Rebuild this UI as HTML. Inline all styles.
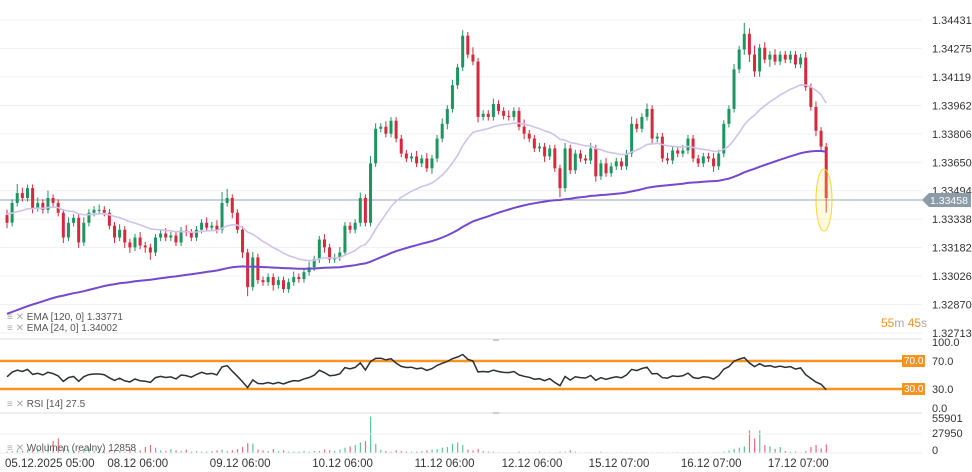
<!DOCTYPE html>
<html><head><meta charset="utf-8"><style>
body{margin:0;background:#fff;font-family:"Liberation Sans",sans-serif}
svg{display:block}
text{font-family:"Liberation Sans",sans-serif}
</style></head><body>
<svg id="chart" width="972" height="472" viewBox="0 0 972 472" xmlns="http://www.w3.org/2000/svg">
<g id="grid"></g>
<g id="axis"></g>
<line x1="0" y1="200" x2="922" y2="200" stroke="#93a4b1" stroke-width="1"/>
<g id="vol"></g>
<g id="candles"></g>
<path id="ema24" fill="none" stroke="#cfc3ea" stroke-width="1.6"/>
<path id="ema120" fill="none" stroke="#7449cc" stroke-width="2"/>
<ellipse cx="824" cy="200" rx="8" ry="31" fill="rgba(255,235,120,0.25)" stroke="#f5d33f" stroke-width="1"/>
<g>
<path d="M922 200 L929 193 H971 V207 H929 Z" fill="#8c9ba8"/>
<text x="930" y="204" font-size="10.5" fill="#fff">1.33458</text>
</g>
<text x="881" y="327" font-size="12"><tspan fill="#f7931e">55</tspan><tspan fill="#aaa">m </tspan><tspan fill="#f7931e">45</tspan><tspan fill="#aaa">s</tspan></text>
<line x1="0" y1="339" x2="922" y2="339" stroke="#ddd"/>
<line x1="0" y1="413" x2="922" y2="413" stroke="#ddd"/>
<line x1="0" y1="453" x2="922" y2="453" stroke="#eee"/>
<line x1="0" y1="434" x2="922" y2="434" stroke="#f2f2f2"/>
<rect x="493" y="339" width="6" height="2" fill="#ccc"/>
<rect x="493" y="412" width="6" height="2" fill="#ccc"/>
<line x1="0" y1="361" x2="903" y2="361" stroke="#f7931e" stroke-width="2.5"/>
<line x1="0" y1="389" x2="903" y2="389" stroke="#f7931e" stroke-width="2.5"/>
<rect x="902" y="355" width="23" height="12" fill="#f7931e"/><text x="904" y="364" font-size="10" fill="#fff">70.0</text>
<rect x="902" y="383" width="23" height="12" fill="#f7931e"/><text x="904" y="392" font-size="10" fill="#fff">30.0</text>
<path id="rsi" fill="none" stroke="#2b3036" stroke-width="1.5"/>
<g font-size="11" fill="#333">
<text x="932" y="346">100.0</text><text x="932" y="365">70.0</text><text x="932" y="393">30.0</text><text x="932" y="412">0.0</text>
</g>
<g font-size="11" fill="#333">
<text x="932" y="422">55901</text><text x="932" y="437">27950</text><text x="932" y="454">0</text>
</g>
<g font-size="10" fill="#555">
<text x="7" y="320"><tspan fill="#aaa">≡ ✕ </tspan>EMA  [120,  0]  1.33771</text>
<text x="7" y="331"><tspan fill="#aaa">≡ ✕ </tspan>EMA  [24,  0]  1.34002</text>
<text x="7" y="407"><tspan fill="#aaa">≡ ✕ </tspan>RSI  [14]  27.5</text>
<text x="7" y="451"><tspan fill="#aaa">≡ ✕ </tspan>Wolumen  (realny)  12858</text>
</g>
<g id="dates" font-size="11.5" fill="#333"></g>
</svg>
<script>
const priceTicks=["1.34431","1.34275","1.34119","1.33962","1.33806","1.33650","1.33494","1.33338","1.33182","1.33026","1.32870","1.32713"];
const dateLabels=["05.12.2025  05:00","08.12  06:00","09.12  06:00","10.12  06:00","11.12  06:00","12.12  06:00","15.12  07:00","16.12  07:00","17.12  07:00"];
const dateIndex=[0,20,40,60,80,97,114,132,149];
const firstOpen=1.33360;
const closes=[1.33318,1.33427,1.33481,1.33454,1.33508,1.33400,1.33427,1.33389,1.33454,1.33427,1.33373,1.33237,1.33318,1.33345,1.33210,1.33318,1.33373,1.33389,1.33389,1.33373,
1.33302,1.33237,1.33280,1.33210,1.33183,1.33237,1.33193,1.33183,1.33155,1.33237,1.33259,1.33237,1.33248,1.33210,1.33275,1.33264,1.33237,1.33280,1.33318,1.33291,
1.33302,1.33280,1.33427,1.33454,1.33373,1.33280,1.33155,1.32965,1.33128,1.33003,1.32992,1.33020,1.32976,1.33003,1.32954,1.32992,1.33020,1.33009,1.33047,1.33074,
1.33117,1.33226,1.33183,1.33117,1.33128,1.33155,1.33302,1.33280,1.33318,1.33454,1.33318,1.33644,1.33834,1.33845,1.33807,1.33878,1.33780,1.33698,1.33671,1.33682,
1.33644,1.33671,1.33617,1.33671,1.33780,1.33861,1.33943,1.34073,1.34171,1.34345,1.34241,1.34203,1.33899,1.33916,1.33899,1.33970,1.33932,1.33905,1.33899,1.33932,
1.33845,1.33807,1.33780,1.33726,1.33736,1.33682,1.33726,1.33617,1.33508,1.33726,1.33606,1.33698,1.33671,1.33660,1.33726,1.33573,1.33644,1.33590,1.33628,1.33655,
1.33628,1.33698,1.33861,1.33834,1.33899,1.33943,1.33780,1.33791,1.33671,1.33660,1.33715,1.33698,1.33715,1.33780,1.33671,1.33644,1.33682,1.33671,1.33628,1.33698,
1.33861,1.33943,1.34160,1.34269,1.34355,1.34241,1.34149,1.34279,1.34214,1.34241,1.34203,1.34241,1.34214,1.34241,1.34187,1.34225,1.34062,1.33954,1.33823,1.33736,
1.33454];
const wickUp=[3,2,5,3,2,2,3,2,4,2,2,2,3,2,2,3,2,2,3,2,2,2,3,2,2,2,3,2,2,2,2,3,2,2,2,3,2,2,2,3,2,3,6,5,2,2,2,2,3,2,2,2,2,2,2,2,3,2,2,3,2,2,3,2,2,3,2,2,2,3,2,4,3,2,3,2,2,2,2,2,3,2,3,2,2,3,2,3,2,3,2,4,2,2,2,3,2,2,3,2,2,4,2,2,2,2,2,2,2,3,2,2,2,2,3,2,2,3,2,2,2,2,4,3,2,3,2,2,2,3,2,2,3,2,2,2,2,2,3,2,2,2,3,2,6,3,5,2,3,2,3,2,2,2,2,2,3,2,3,2,2];
const wickDn=[3,2,2,2,2,3,2,2,2,2,2,3,2,2,3,2,2,2,2,2,2,3,2,3,3,2,2,3,4,2,2,2,2,2,2,2,2,2,2,2,2,2,2,2,3,2,3,5,2,2,2,2,3,2,2,2,2,2,2,2,2,2,3,2,2,2,2,2,2,2,2,2,2,2,2,2,2,2,2,2,2,2,2,3,2,2,3,2,2,2,2,2,3,2,2,2,2,2,2,2,2,3,2,2,2,3,2,2,5,2,2,2,2,2,2,3,2,2,2,2,2,2,2,2,2,2,3,2,2,2,2,2,2,2,2,2,2,2,3,2,2,2,2,2,3,4,3,3,2,4,2,2,2,2,2,2,2,2,3,2,8];
const volumes=[2,3,4,3,5,4,6,3,14,18,22,8,5,4,3,6,7,3,4,2,
3,4,3,2,6,5,4,9,12,8,4,3,6,4,3,5,2,3,2,2,
3,4,5,3,4,6,9,15,14,5,4,3,6,3,4,2,2,2,3,2,
3,3,5,4,3,5,8,10,12,16,18,55,14,5,3,2,4,3,2,2,
2,3,4,5,6,8,9,14,16,12,5,4,6,3,2,2,1,1,1,1,
2,1,1,1,2,1,1,1,2,2,4,2,1,1,1,1,2,1,1,1,
1,1,1,1,1,1,1,1,1,1,1,1,1,1,1,1,
1,1,1,1,2,4,6,8,10,34,22,34,12,10,6,9,3,2,2,1,3,9,12,7,13];
const emaSeed24=1.3337, emaSeed120=1.3281;

const NS="http://www.w3.org/2000/svg";
const X0=7, DX=5.12;
const pTop=1.34431,pBot=1.32713,yTop=20,yBot=333;
function xs(i){return X0+i*DX;}
function ys(p){return yTop+(pTop-p)/(pTop-pBot)*(yBot-yTop);}
function yr(v){return 410-v*0.7;}
function yv(v){return 453-v/55.901*37;}
function mk(tag,parent,attrs){const e=document.createElementNS(NS,tag);for(const k in attrs)e.setAttribute(k,attrs[k]);parent.appendChild(e);return e;}
const grid=document.getElementById('grid'),axis=document.getElementById('axis');
priceTicks.forEach(t=>{const y=ys(parseFloat(t));
 const l=mk('line',grid,{x1:0,x2:922,y1:y,y2:y,stroke:'#f1f1f1'});
 
 
 const tx=mk('text',axis,{x:932,y:y+4,'font-size':11,fill:'#333'});tx.textContent=t;
 
 
});
const dates=document.getElementById('dates');
dateLabels.forEach((d,k)=>{const t=mk('text',dates,{x:xs(dateIndex[k])-2,y:467});t.textContent=d;
 
 });
const cg=document.getElementById('candles'),vg=document.getElementById('vol');
let e24=emaSeed24,e120=emaSeed120,p24="",p120="";
let ag=0.0003,al=0.0003,prsi="";
closes.forEach((c,i)=>{
 const o=i===0?firstOpen:closes[i-1];
 const up=c>=o;
 const col=up?'#1e9560':'#d8283c';
 const hi=Math.max(o,c)+wickUp[i]*0.0001, lo=Math.min(o,c)-wickDn[i]*0.0001;
 const x=xs(i);
 const w=mk('line',cg,{x1:x,x2:x,y1:ys(hi),y2:ys(lo),stroke:col,'stroke-width':1});
 
 
 const yt=ys(Math.max(o,c)),yb=ys(Math.min(o,c));
 const b=mk('rect',cg,{x:x-1.5,y:yt,width:3,height:Math.max(1,yb-yt),fill:col});
 
 
 const vb=mk('rect',vg,{x:x-0.5,y:yv(volumes[i]),width:1.2,height:453-yv(volumes[i]),fill:up?'#5cc496':'#ee6a78'});
 
 
 e24=e24+(c-e24)*2/25; e120=e120+(c-e120)*2/121;
 p24+=(i?'L':'M')+x.toFixed(1)+' '+ys(e24).toFixed(1);
 p120+=(i?'L':'M')+x.toFixed(1)+' '+ys(e120).toFixed(1);
 const d=c-o; ag=(ag*13+Math.max(d,0))/14; al=(al*13+Math.max(-d,0))/14;
 const r=100-100/(1+ag/al);
 prsi+=(i?'L':'M')+x.toFixed(1)+' '+yr(r).toFixed(1);
});
document.getElementById('ema24').setAttribute('d',p24);
document.getElementById('ema120').setAttribute('d',p120);
document.getElementById('rsi').setAttribute('d',prsi);
</script>
</body></html>
